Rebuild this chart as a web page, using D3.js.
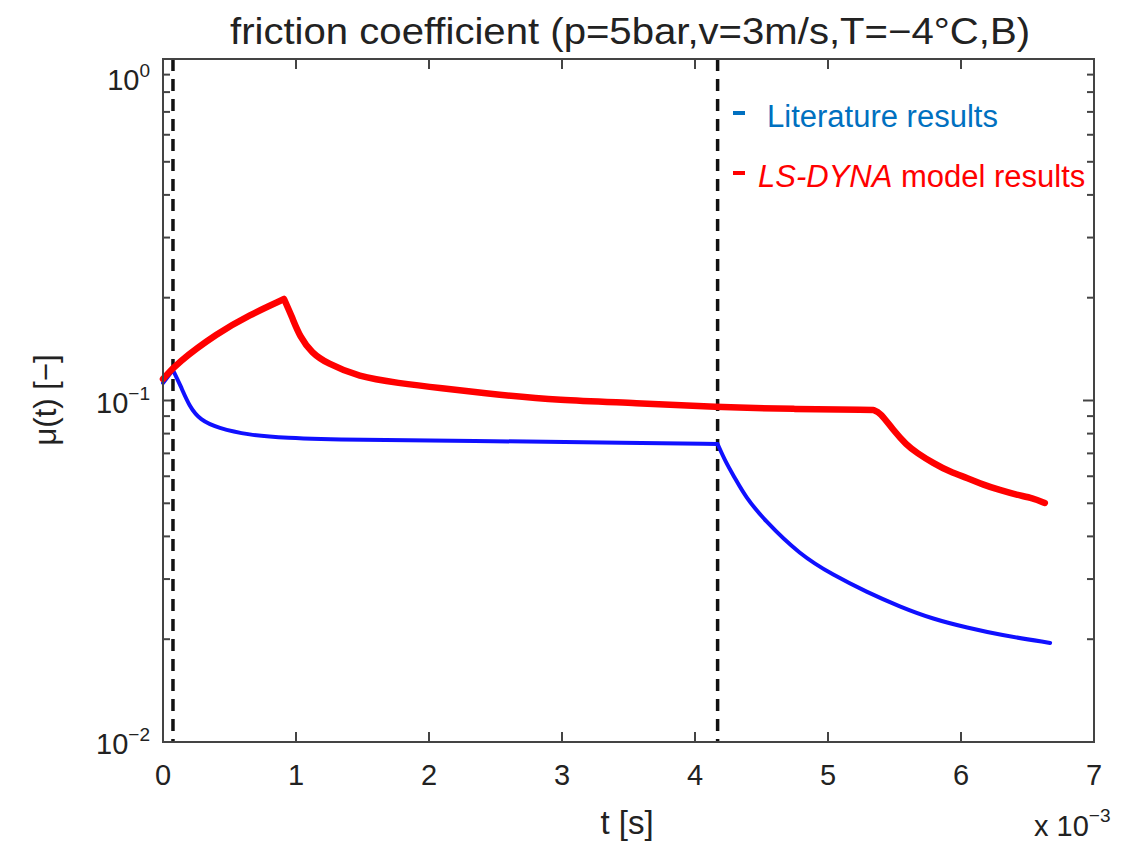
<!DOCTYPE html>
<html>
<head>
<meta charset="utf-8">
<script src="https://cdn.jsdelivr.net/npm/d3@7"></script>
<style>
  body { margin: 0; background: #fff; }
  text { font-family: "Liberation Sans", Arial, sans-serif; }
</style>
</head>
<body>
<div id="chart"></div>
<script>
// chart texts
var titleText = "friction coefficient (p=5bar,v=3m/s,T=\u22124\u00b0C,B)";
var xLabel = "t [s]";
var yLabel = "\u03bc(t) [\u2212]";

// ticks
var xTicks = [0, 1, 2, 3, 4, 5, 6, 7];
var yTicks = [0.01, 0.1, 1];
var yTickExp = ["\u22122", "\u22121", "0"];

// vertical dashed lines (t in 1e-3 s)
var dashedAt = [0.075, 4.17];

// literature results (blue)
var litT  = [0, 0.075, 0.13, 0.20, 0.28, 0.41, 0.65, 0.90, 1.41, 2.5, 3.5, 4.17, 4.23, 4.30, 4.38, 4.52, 4.79, 5.04, 5.29, 5.54, 5.79, 6.05, 6.29, 6.67];
var litMu = [0.1125, 0.1228, 0.1110, 0.0957, 0.0877, 0.0831, 0.0792, 0.0777, 0.0766, 0.0761, 0.0751, 0.0746, 0.0661, 0.0593, 0.0522, 0.0447, 0.0353, 0.0308, 0.0275, 0.0249, 0.0229, 0.0216, 0.0206, 0.0195];
var litKinks = [1, 11];

// LS-DYNA model results (red)
var dynaT  = [0, 0.105, 0.41, 0.65, 0.91, 0.97, 1.03, 1.12, 1.23, 1.47, 1.77, 2.07, 2.54, 2.96, 3.56, 4.15, 4.74, 5.34, 5.39, 5.49, 5.59, 5.67, 5.79, 5.92, 6.05, 6.17, 6.29, 6.42, 6.54, 6.63];
var dynaMu = [0.1156, 0.1287, 0.1576, 0.1780, 0.1982, 0.1756, 0.1534, 0.1377, 0.1287, 0.1172, 0.1125, 0.1088, 0.1038, 0.1003, 0.0983, 0.0957, 0.0944, 0.0938, 0.0925, 0.0819, 0.0741, 0.0702, 0.0656, 0.0617, 0.0593, 0.0566, 0.0547, 0.0529, 0.0518, 0.0501];
var dynaKinks = [4, 17];

var width = 1135, height = 850;
var plotLeft = 163, plotRight = 1094, plotTop = 59, plotBottom = 742;  // "top" is taken by window.top

var svg = d3.select("#chart").append("svg").attr("width", width).attr("height", height);

var x = d3.scaleLinear().domain([0, 7]).range([plotLeft, plotRight]);
var y = d3.scaleLog().domain([0.01, 1]).range([plotBottom, plotTop]);

var axisColor = "#444";

// minor + major y ticks (inside, both sides)
var yMinor = [];
[0.01, 0.1].forEach(function(dec) {
    for (var k = 2; k <= 9; k++) yMinor.push(dec * k);
});

var tickG = svg.append("g").attr("stroke", axisColor).attr("stroke-width", 2);
yMinor.forEach(function(v) {
    tickG.append("line").attr("x1", plotLeft).attr("x2", plotLeft + 7).attr("y1", y(v)).attr("y2", y(v));
    tickG.append("line").attr("x1", plotRight).attr("x2", plotRight - 7).attr("y1", y(v)).attr("y2", y(v));
});
yTicks.forEach(function(v) {
    tickG.append("line").attr("x1", plotLeft).attr("x2", plotLeft + 11).attr("y1", y(v)).attr("y2", y(v));
    tickG.append("line").attr("x1", plotRight).attr("x2", plotRight - 11).attr("y1", y(v)).attr("y2", y(v));
});
xTicks.forEach(function(v) {
    tickG.append("line").attr("x1", x(v)).attr("x2", x(v)).attr("y1", plotBottom).attr("y2", plotBottom - 10);
    tickG.append("line").attr("x1", x(v)).attr("x2", x(v)).attr("y1", plotTop).attr("y2", plotTop + 10);
});

// dashed markers
svg.append("g").selectAll("line").data(dashedAt).enter().append("line")
    .attr("x1", function(d) { return x(d); })
    .attr("x2", function(d) { return x(d); })
    .attr("y1", plotTop).attr("y2", plotBottom)
    .attr("stroke", "#111").attr("stroke-width", 3.5)
    .attr("stroke-dasharray", "12,8");

// data lines, split at kinks so peaks stay sharp
function segmentedPath(ts, mus, kinks) {
    var pts = ts.map(function(t, i) { return [t, mus[i]]; });
    var cuts = [0].concat(kinks).concat([pts.length - 1]);
    var line = d3.line()
        .x(function(d) { return x(d[0]); })
        .y(function(d) { return y(d[1]); })
        .curve(d3.curveBasis);
    var s = "";
    for (var i = 0; i < cuts.length - 1; i++) {
        s += line(pts.slice(cuts[i], cuts[i + 1] + 1));
    }
    return s;
}

svg.append("path")
    .attr("d", segmentedPath(litT, litMu, litKinks))
    .attr("fill", "none").attr("stroke", "#1010ff").attr("stroke-width", 4)
    .attr("stroke-linecap", "round").attr("stroke-linejoin", "round");

svg.append("path")
    .attr("d", segmentedPath(dynaT, dynaMu, dynaKinks))
    .attr("fill", "none").attr("stroke", "#ff0000").attr("stroke-width", 6.5)
    .attr("stroke-linecap", "round").attr("stroke-linejoin", "round");

// frame
svg.append("rect")
    .attr("x", plotLeft).attr("y", plotTop)
    .attr("width", plotRight - plotLeft).attr("height", plotBottom - plotTop)
    .attr("fill", "none").attr("stroke", axisColor).attr("stroke-width", 2);

// x tick labels
svg.append("g").selectAll("text").data(xTicks).enter().append("text")
    .attr("x", function(d) { return x(d); })
    .attr("y", 785)
    .attr("text-anchor", "middle")
    .attr("font-size", 29)
    .attr("fill", "#222")
    .text(function(d) { return d; });

// y tick labels 10^n
yTicks.forEach(function(v, i) {
    var base = Math.max(y(v) + 12, 90);
    var t = svg.append("text")
        .attr("x", 150).attr("y", base)
        .attr("text-anchor", "end")
        .attr("font-size", 29)
        .attr("fill", "#222");
    t.append("tspan").text("10");
    t.append("tspan").attr("font-size", 19).attr("dy", -13).text(yTickExp[i]);
});

// x multiplier
var mult = svg.append("text").attr("x", 1034).attr("y", 836).attr("font-size", 29).attr("fill", "#222");
mult.append("tspan").text("x 10");
mult.append("tspan").attr("font-size", 19).attr("dy", -14).text("\u22123");

// axis labels
svg.append("text")
    .attr("x", 627).attr("y", 834)
    .attr("text-anchor", "middle")
    .attr("font-size", 33).attr("fill", "#222")
    .text(xLabel);

svg.append("text")
    .attr("transform", "translate(56,400) rotate(-90)")
    .attr("text-anchor", "middle")
    .attr("font-size", 31).attr("fill", "#222")
    .text(yLabel);

// title
svg.append("text")
    .attr("x", 630).attr("y", 44)
    .attr("text-anchor", "middle")
    .attr("font-size", 37).attr("fill", "#222")
    .attr("textLength", 800).attr("lengthAdjust", "spacingAndGlyphs")
    .text(titleText);

// legend
var legend = [
    { label: "Literature results", color: "#0070c0", y: 127 },
    { label: "LS-DYNA", rest: " model results", color: "#ff0000", y: 187 }
];
legend.forEach(function(d) {
    svg.append("line")
        .attr("x1", 733).attr("x2", 745)
        .attr("y1", d.y - 14).attr("y2", d.y - 14)
        .attr("stroke", d.color).attr("stroke-width", 4);
    var t = svg.append("text").attr("y", d.y).attr("font-size", 31).attr("fill", d.color);
    if (d.rest) {
        t.attr("x", 758);
        t.append("tspan").attr("font-style", "italic").text(d.label);
        t.append("tspan").text(d.rest);
    } else {
        t.attr("x", 767).text(d.label);
    }
});
</script>
</body>
</html>
